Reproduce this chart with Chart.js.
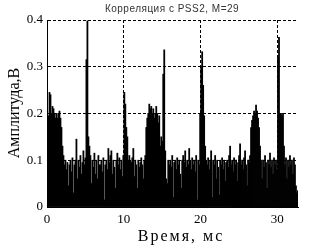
<!DOCTYPE html>
<html>
<head>
<meta charset="utf-8">
<script src="https://cdn.jsdelivr.net/npm/chart.js@4/dist/chart.umd.min.js"></script>
<style>
  html, body { margin: 0; padding: 0; background: #fff; }
  canvas { display: block; }
</style>
</head>
<body>
<canvas id="corrChart" width="329" height="247"></canvas>
<script>
// Sample step in ms and amplitude of each sample
const sampleStep = 0.13;
const amplitude = [
  0.19, 0.195, 0.245, 0.24, 0.2, 0.215, 0.21, 0.2, 0.19, 0.2,
  0.19, 0.2, 0.205, 0.19, 0.17, 0.13, 0.11, 0.09, 0.1, 0.08,
  0.095, 0.045, 0.09, 0.1, 0.075, 0.105, 0.03, 0.09, 0.1, 0.145,
  0.06, 0.1, 0.085, 0.11, 0.07, 0.095, 0.12, 0.09, 0.105, 0.315,
  0.398, 0.15, 0.13, 0.11, 0.05, 0.1, 0.085, 0.115, 0.07, 0.1,
  0.06, 0.11, 0.09, 0.09, 0.1, 0.075, 0.105, 0.015, 0.09, 0.1,
  0.08, 0.125, 0.095, 0.11, 0.12, 0.07, 0.1, 0.085, 0.04, 0.1,
  0.115, 0.09, 0.105, 0.08, 0.1, 0.065, 0.11, 0.245, 0.22, 0.17,
  0.15, 0.1, 0.11, 0.1, 0.095, 0.105, 0.125, 0.065, 0.1, 0.09,
  0.04, 0.1, 0.085, 0.095, 0.105, 0.09, 0.06, 0.1, 0.11, 0.17,
  0.19, 0.2, 0.22, 0.21, 0.215, 0.2, 0.21, 0.19, 0.2, 0.215,
  0.2, 0.18, 0.195, 0.13, 0.15, 0.14, 0.284, 0.336, 0.12, 0.06,
  0.05, 0.1, 0.09, 0.1, 0.085, 0.11, 0.02, 0.095, 0.1, 0.08,
  0.105, 0.09, 0.1, 0.07, 0.04, 0.1, 0.11, 0.095, 0.12, 0.085,
  0.1, 0.09, 0.125, 0.1, 0.08, 0.105, 0.09, 0.1, 0.075, 0.11,
  0.015, 0.1, 0.09, 0.2, 0.3, 0.332, 0.26, 0.195, 0.13, 0.1,
  0.09, 0.105, 0.08, 0.1, 0.12, 0.02, 0.1, 0.09, 0.11, 0.06,
  0.1, 0.085, 0.025, 0.1, 0.09, 0.105, 0.08, 0.1, 0.055, 0.095,
  0.1, 0.085, 0.11, 0.13, 0.09, 0.1, 0.075, 0.105, 0.09, 0.1,
  0.055, 0.095, 0.11, 0.135, 0.09, 0.1, 0.08, 0.105, 0.12, 0.09,
  0.045, 0.1, 0.095, 0.11, 0.17, 0.185, 0.195, 0.205, 0.2, 0.218,
  0.205, 0.19, 0.17, 0.13, 0.1, 0.06, 0.1, 0.085, 0.11, 0.095,
  0.04, 0.1, 0.09, 0.115, 0.085, 0.1, 0.07, 0.105, 0.09, 0.1,
  0.08, 0.32, 0.363, 0.2, 0.2, 0.195, 0.2, 0.13, 0.09, 0.105,
  0.06, 0.1, 0.085, 0.11, 0.09, 0.1, 0.07, 0.105, 0.09, 0.045,
  0.03, 0.035
];
const xTicks = [0, 10, 20, 30];
const yTicks = [0, 0.1, 0.2, 0.3, 0.4];
const xMax = 32.7;

const titleText = 'Корреляция с PSS2, M=29';
const xTitle = 'Время, мс';
const yTitle = 'Амплитуда,В';

const points = amplitude.map((v, i) => ({ x: (i + 0.5) * sampleStep, y: v }));

// Title and axis names, drawn on top
const textPlugin = {
  id: 'texts',
  afterDraw(chart) {
    const ctx = chart.ctx;
    ctx.save();
    ctx.fillStyle = '#333';
    ctx.textAlign = 'center';
    ctx.textBaseline = 'middle';
    ctx.font = '10px "Liberation Sans"';
    ctx.letterSpacing = '0.5px';
    ctx.fillText(titleText, 172, 9);

    ctx.fillStyle = '#000';
    ctx.font = '16px "Liberation Serif"';
    ctx.letterSpacing = '2px';
    ctx.fillText(xTitle, 181, 237);

    ctx.letterSpacing = '0px';
    ctx.translate(15, 113);
    ctx.rotate(-Math.PI / 2);
    ctx.fillText(yTitle, 0, 0);
    ctx.restore();
  }
};

new Chart(document.getElementById('corrChart').getContext('2d'), {
  type: 'bar',
  data: {
    datasets: [{
      data: points,
      backgroundColor: '#000',
      borderWidth: 0,
      barPercentage: 1,
      categoryPercentage: 1,
      inflateAmount: 0.4
    }]
  },
  options: {
    responsive: false,
    animation: false,
    devicePixelRatio: 1,
    layout: { padding: { top: 20, right: 31, bottom: 0, left: 0 } },
    plugins: {
      legend: { display: false },
      tooltip: { enabled: false },
      title: { display: false }
    },
    scales: {
      x: {
        type: 'linear',
        min: 0,
        max: xMax,
        offset: false,
        afterBuildTicks: scale => { scale.ticks = xTicks.map(v => ({ value: v })); },
        afterFit: scale => { scale.height = 40; },
        ticks: {
          color: '#000',
          padding: 5,
          font: { family: 'Liberation Serif', size: 13 },
          maxRotation: 0
        },
        grid: { color: '#000', lineWidth: 1, drawTicks: false, offset: false },
        border: { display: true, color: '#000', width: 1, dash: [3, 2] }
      },
      y: {
        min: 0,
        max: 0.4,
        afterBuildTicks: scale => { scale.ticks = yTicks.map(v => ({ value: v })); },
        afterFit: scale => { scale.width = 47; },
        ticks: {
          color: '#000',
          padding: 4,
          font: { family: 'Liberation Serif', size: 13 },
          callback: v => (v === 0 ? '0' : v.toFixed(1))
        },
        grid: { color: '#000', lineWidth: 1, drawTicks: false },
        border: { display: true, color: '#000', width: 1, dash: [3, 2] }
      }
    }
  },
  plugins: [textPlugin]
});
</script>
</body>
</html>
